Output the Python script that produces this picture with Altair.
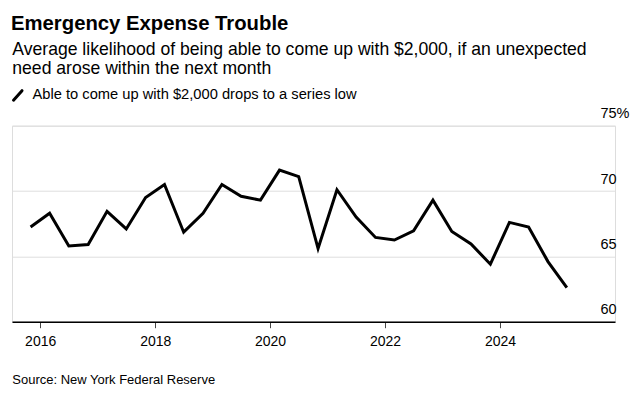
import altair as alt
import pandas as pd

dates = [
    "2015-11-01", "2016-03-01", "2016-07-01", "2016-11-01", "2017-03-01", "2017-07-01",
    "2017-11-01", "2018-03-01", "2018-07-01", "2018-11-01", "2019-03-01", "2019-07-01",
    "2019-11-01", "2020-03-01", "2020-07-01", "2020-11-01", "2021-03-01", "2021-07-01",
    "2021-11-01", "2022-03-01", "2022-07-01", "2022-11-01", "2023-03-01", "2023-07-01",
    "2023-11-01", "2024-03-01", "2024-07-01", "2024-11-01", "2025-03-01",
]
values = [
    67.25, 68.3, 65.8, 65.9, 68.45, 67.1,
    69.5, 70.5, 66.85, 68.3, 70.5, 69.6,
    69.3, 71.6, 71.1, 65.6, 70.1, 68.0,
    66.45, 66.25, 66.95, 69.3, 66.9, 65.95,
    64.4, 67.6, 67.25, 64.6, 62.6,
]
y_ticks = [60, 65, 70, 75]
x_ticks = ["2016-01-01", "2018-01-01", "2020-01-01", "2022-01-01", "2024-01-01"]

title = "Emergency Expense Trouble"
subtitle = ["Average likelihood of being able to come up with $2,000, if an unexpected",
            "need arose within the next month"]
legend_label = "Able to come up with $2,000 drops to a series low"
source = "Source: New York Federal Reserve"

W, H = 603, 196
FONT = "Liberation Sans"

df = pd.DataFrame({"date": pd.to_datetime(dates), "value": values})

x_enc = alt.X(
    "date:T",
    scale=alt.Scale(domain=["2015-07-06", "2026-01-01"]),
    axis=alt.Axis(
        values=x_ticks, format="%Y", title=None, grid=False,
        domainColor="#000000", domainWidth=1.5, tickColor="#444444", tickSize=6,
        tickWidth=1, labelFontSize=14, labelPadding=7, labelColor="#000000",
        labelFlush=False, labelFont=FONT,
    ),
)
y_enc = alt.Y(
    "value:Q",
    scale=alt.Scale(domain=[60, 75], nice=False, zero=False),
    axis=alt.Axis(
        orient="right", values=y_ticks, title=None, domain=False, ticks=False,
        grid=True, gridColor="#dedede", gridWidth=1,
        labelAlign="left", labelBaseline="alphabetic", labelPadding=-15,
        labelOffset=-8, labelFontSize=14.5, labelColor="#000000", labelFont=FONT,
        labelExpr="datum.value == 75 ? '75%' : datum.label",
    ),
)

line = alt.Chart(df).mark_line(color="#000000", strokeWidth=3, strokeJoin="miter").encode(
    x=x_enc, y=y_enc
)


def text_layer(txt, x, y, size, weight="normal"):
    return alt.Chart(pd.DataFrame({"t": [txt]})).mark_text(
        align="left", baseline="alphabetic", fontSize=size, fontWeight=weight,
        font=FONT, color="#000000",
    ).encode(x=alt.value(x), y=alt.value(y), text="t:N")


t_title = text_layer(title, -1, -95.7, 20.3, "bold")
t_sub1 = text_layer(subtitle[0], 0.3, -71, 17.6)
t_sub2 = text_layer(subtitle[1], 0.3, -51.5, 17.6)
t_leg = text_layer(legend_label, 20.5, -26.2, 14.7)
t_src = text_layer(source, 0.3, 258.3, 13)

icon = alt.Chart(pd.DataFrame({"k": [1]})).mark_rule(
    color="#000000", strokeWidth=3, strokeCap="round"
).encode(x=alt.value(1.5), x2=alt.value(10), y=alt.value(-25.5), y2=alt.value(-35))

chart = alt.layer(line, t_title, t_sub1, t_sub2, t_leg, t_src, icon).properties(
    width=W, height=H,
    autosize=alt.AutoSizeParams(type="none"),
    padding={"left": 4, "top": 117.7, "right": 18, "bottom": 67},
).configure_view(stroke=None).configure(font=FONT)

chart.save("out.html", embed_options={"renderer": "svg", "actions": False})
